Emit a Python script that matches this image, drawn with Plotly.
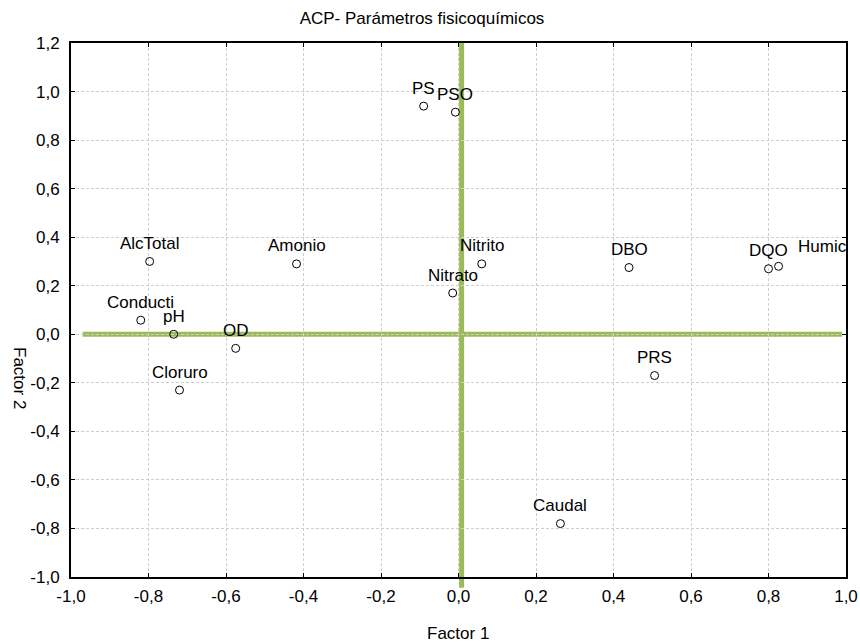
import plotly.graph_objects as go

# Data
labels = ["PS", "PSO", "AlcTotal", "Amonio", "Conducti", "pH", "OD", "Cloruro",
          "Nitrito", "Nitrato", "DBO", "DQO", "Humic", "PRS", "Caudal"]
factor1 = [-0.09, -0.008, -0.797, -0.418, -0.82, -0.735, -0.575, -0.72,
           0.06, -0.015, 0.44, 0.80, 0.826, 0.506, 0.263]
factor2 = [0.94, 0.915, 0.30, 0.29, 0.058, 0.0, -0.058, -0.23,
           0.29, 0.17, 0.275, 0.27, 0.28, -0.17, -0.78]

x_ticks = [-1.0, -0.8, -0.6, -0.4, -0.2, 0.0, 0.2, 0.4, 0.6, 0.8, 1.0]
y_ticks = [-1.0, -0.8, -0.6, -0.4, -0.2, 0.0, 0.2, 0.4, 0.6, 0.8, 1.0, 1.2]

def fmt(v):
    return f"{v:.1f}".replace(".", ",")

FONT = "Liberation Sans, Arial, sans-serif"
GREEN = "#9BBB59"

W, H = 860, 644
ML, MR, MT, MB = 71, 14, 43, 67
pw, ph = W - ML - MR, H - MT - MB

def px_to_paper(px, py):
    return (px - ML) / pw, (H - MB - py) / ph

fig = go.Figure()
fig.add_trace(go.Scatter(
    x=factor1, y=factor2, mode="markers",
    marker=dict(symbol="circle-open", size=8, color="black", line=dict(width=1, color="black")),
    showlegend=False, hoverinfo="text", text=labels, cliponaxis=False,
))

# reference lines (green)
fig.add_shape(type="line", xref="x", yref="y", x0=-0.97, x1=0.99, y0=0, y1=0,
              line=dict(color=GREEN, width=5), layer="below")
fig.add_shape(type="line", xref="x", yref="paper", x0=0.008, x1=0.008, y0=-0.02, y1=1.0,
              line=dict(color=GREEN, width=5), layer="below")

annotations = []
for lab, xv, yv in zip(labels, factor1, factor2):
    if lab == "Humic":
        annotations.append(dict(x=xv, y=yv, xref="x", yref="y", text=lab, showarrow=False,
                                xanchor="left", yanchor="middle", xshift=17, yshift=20,
                                font=dict(family=FONT, size=17, color="black")))
    else:
        annotations.append(dict(x=xv, y=yv, xref="x", yref="y", text=lab, showarrow=False,
                                xanchor="center", yanchor="middle", yshift=18,
                                font=dict(family=FONT, size=17, color="black")))

ax, ay = px_to_paper(458, 633)
annotations.append(dict(x=ax, y=ay, xref="paper", yref="paper", text="Factor 1",
                        xanchor="center", yanchor="middle", showarrow=False,
                        font=dict(family=FONT, size=17, color="black")))
bx, by = px_to_paper(20, 378)
annotations.append(dict(x=bx, y=by, xref="paper", yref="paper", text="Factor 2", textangle=90,
                        xanchor="center", yanchor="middle", showarrow=False,
                        font=dict(family=FONT, size=17, color="black")))

axis_common = dict(
    showgrid=True, gridcolor="#cfcfcf", griddash="3px,2px", gridwidth=1,
    showline=True, linecolor="black", linewidth=2, mirror="allticks",
    ticks="inside", ticklen=4, tickcolor="black", tickwidth=1,
    zeroline=False, automargin=False,
    tickfont=dict(family=FONT, size=17, color="black"),
)

fig.update_layout(
    width=W, height=H,
    margin=dict(l=ML, r=MR, t=MT, b=MB, autoexpand=False),
    paper_bgcolor="white", plot_bgcolor="white",
    title=dict(text="ACP- Parámetros fisicoquímicos", x=422 / W, xanchor="center",
               y=1 - 18 / H, yanchor="middle", yref="container",
               font=dict(family=FONT, size=17, color="black")),
    xaxis=dict(range=[-1.0, 1.0], tickvals=x_ticks, ticktext=[fmt(v) for v in x_ticks],
               ticklabelstandoff=3, **axis_common),
    yaxis=dict(range=[-1.0, 1.2], tickvals=y_ticks, ticktext=[fmt(v) for v in y_ticks],
               ticklabelstandoff=6, **axis_common),
    annotations=annotations,
    showlegend=False,
)

# remove the browser's default 8px body margin so the figure fills the window exactly
fig.write_html("out.html",
               config={"displayModeBar": False},
               post_script="document.body.style.margin='0';document.body.style.overflow='hidden';")
